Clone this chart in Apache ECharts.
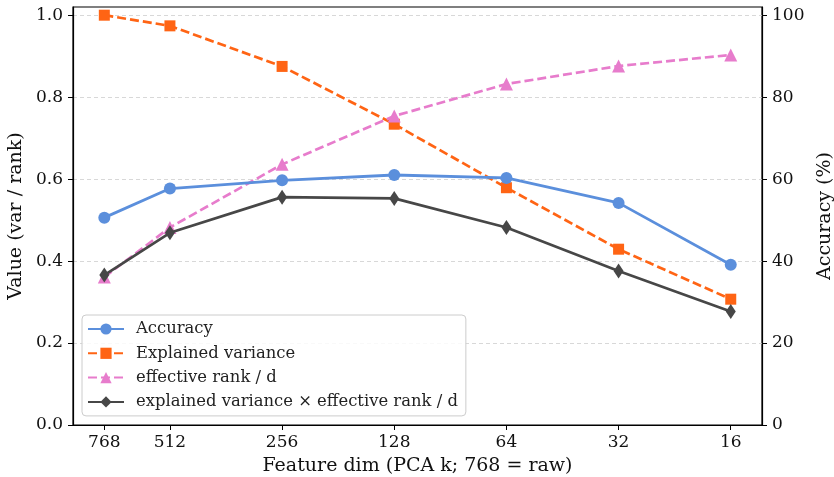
<!DOCTYPE html>
<html><head><meta charset="utf-8">
<script src="https://cdn.jsdelivr.net/npm/echarts@6/dist/echarts.min.js"></script>
<style>html,body{margin:0;padding:0;background:#fff}#c{width:834px;height:477px}</style>
</head><body><div id="c"></div>
<script>
const dims = [768, 512, 256, 128, 64, 32, 16];
const accuracy = [50.6, 57.7, 59.7, 61.0, 60.3, 54.2, 39.1];
const explainedVar = [1.0, 0.974, 0.875, 0.734, 0.579, 0.429, 0.307];
const effRank = [0.361, 0.482, 0.636, 0.754, 0.832, 0.876, 0.903];
const product = [0.366, 0.469, 0.556, 0.553, 0.482, 0.376, 0.277];
const leftTicks = [0, 0.2, 0.4, 0.6, 0.8, 1.0];
const rightTicks = [0, 20, 40, 60, 80, 100];
const names = ['Accuracy', 'Explained variance', 'effective rank / d', 'explained variance \u00d7 effective rank / d'];

const FONT = 'DejaVu Serif';
const pairs = arr => dims.map((d, i) => [d, arr[i]]);
const chart = echarts.init(document.getElementById('c'), null, {renderer: 'canvas'});
chart.setOption({
  animation: false,
  backgroundColor: '#fff',
  textStyle: {fontFamily: FONT},
  grid: {left: 73, right: 72, top: 7, bottom: 52, outerBoundsMode: 'none', containLabel: false,
         show: true, borderColor: '#000', borderWidth: 1.2, backgroundColor: 'transparent'},
  legend: {
    orient: 'vertical', left: 82, top: 315,
    data: names,
    backgroundColor: 'rgba(255,255,255,0.85)', borderColor: '#cccccc', borderWidth: 1, borderRadius: 4,
    padding: [6, 8, 6, 5], itemWidth: 36, itemHeight: 14, itemGap: 8.3,
    textStyle: {fontFamily: FONT, fontSize: 16.4, lineHeight: 16, color: '#222', padding: [0, 0, 0, 7]}
  },
  xAxis: {
    type: 'log', logBase: 2, inverse: true, min: 13.19, max: 932,
    name: 'Feature dim (PCA k; 768 = raw)', nameLocation: 'middle', nameGap: 32,
    nameTextStyle: {fontFamily: FONT, fontSize: 19, color: '#111'},
    axisLine: {show: true, lineStyle: {color: '#000', width: 1.2}},
    axisTick: {show: true, length: 5, customValues: dims, lineStyle: {color: '#000'}},
    axisLabel: {customValues: dims, margin: 9, fontFamily: FONT, fontSize: 17, color: '#111', formatter: v => String(Math.round(v))},
    splitLine: {show: false}, minorTick: {show: false}, minorSplitLine: {show: false}
  },
  yAxis: [{
    type: 'value', min: 0, max: 1.02, position: 'left',
    name: 'Value (var / rank)', nameLocation: 'middle', nameGap: 41,
    nameTextStyle: {fontFamily: FONT, fontSize: 19, color: '#111'},
    axisLine: {show: true, lineStyle: {color: '#000', width: 1.2}},
    axisTick: {show: true, length: 5, customValues: leftTicks, lineStyle: {color: '#000'}},
    axisLabel: {customValues: leftTicks, margin: 10, fontFamily: FONT, fontSize: 17, color: '#111', formatter: v => v.toFixed(1)},
    splitLine: {show: true, lineStyle: {color: '#d4d4d4', type: [4, 3], width: 0.9}}
  }, {
    type: 'value', min: 0, max: 102, position: 'right',
    name: 'Accuracy (%)', nameLocation: 'middle', nameGap: 45,
    nameTextStyle: {fontFamily: FONT, fontSize: 19, color: '#111'},
    axisLine: {show: true, lineStyle: {color: '#000', width: 1.2}},
    axisTick: {show: true, length: 5, customValues: rightTicks, lineStyle: {color: '#000'}},
    axisLabel: {customValues: rightTicks, margin: 10, fontFamily: FONT, fontSize: 17, color: '#111', formatter: v => String(Math.round(v))},
    splitLine: {show: false}
  }],
  series: [{
    name: names[1], type: 'line', yAxisIndex: 0, data: pairs(explainedVar),
    symbol: 'rect', symbolSize: 11, color: '#ff6414',
    itemStyle: {color: '#ff6414'}, lineStyle: {color: '#ff6414', width: 2.7, type: [9, 4]}, z: 2
  }, {
    name: names[2], type: 'line', yAxisIndex: 0, data: pairs(effRank),
    symbol: 'triangle', symbolSize: 13, color: '#e77ccc',
    itemStyle: {color: '#e77ccc'}, lineStyle: {color: '#e77ccc', width: 2.7, type: [9, 4]}, z: 3
  }, {
    name: names[3], type: 'line', yAxisIndex: 0, data: pairs(product),
    symbol: 'diamond', symbolSize: [10, 15], color: '#474747',
    itemStyle: {color: '#474747'}, lineStyle: {color: '#474747', width: 2.7}, z: 4
  }, {
    name: names[0], type: 'line', yAxisIndex: 1, data: pairs(accuracy),
    symbol: 'circle', symbolSize: 12, color: '#5b8fdc',
    itemStyle: {color: '#5b8fdc'}, lineStyle: {color: '#5b8fdc', width: 2.8}, z: 5
  }]
});
</script></body></html>
